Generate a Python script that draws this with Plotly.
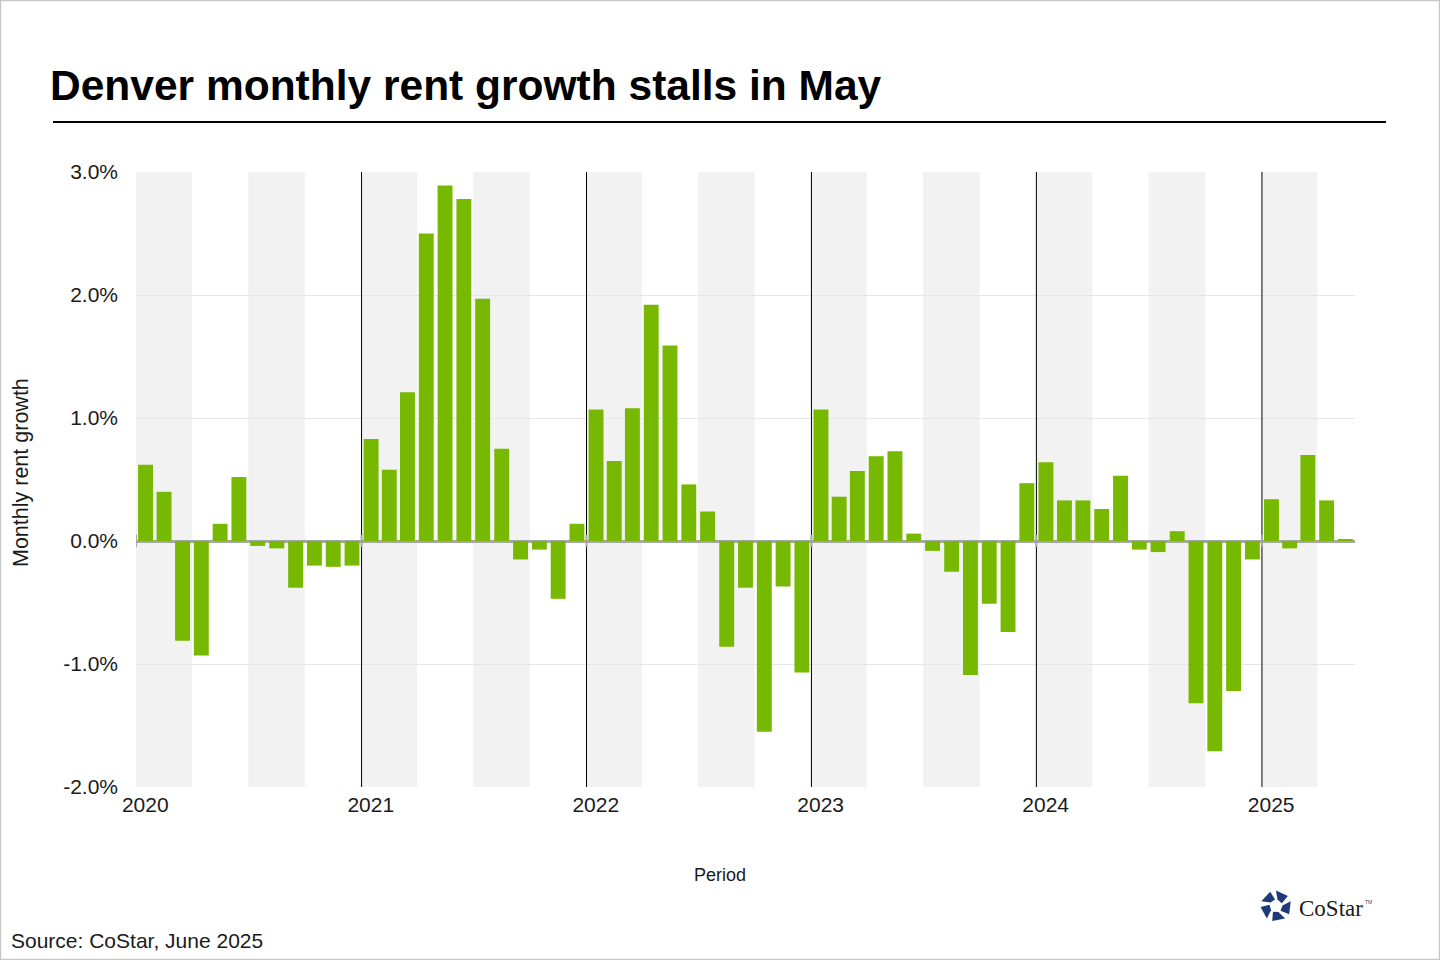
import math
import pandas as pd
import plotly.graph_objects as go

# ---- data (monthly rent growth, %) ----
v2020 = [0.62, 0.40, -0.81, -0.93, 0.14, 0.52, -0.04, -0.06, -0.38, -0.20, -0.21, -0.20]
v2021 = [0.83, 0.58, 1.21, 2.50, 2.89, 2.78, 1.97, 0.75, -0.15, -0.07, -0.47, 0.14]
v2022 = [1.07, 0.65, 1.08, 1.92, 1.59, 0.46, 0.24, -0.86, -0.38, -1.55, -0.37, -1.07]
v2023 = [1.07, 0.36, 0.57, 0.69, 0.73, 0.06, -0.08, -0.25, -1.09, -0.51, -0.74, 0.47]
v2024 = [0.64, 0.33, 0.33, 0.26, 0.53, -0.07, -0.09, 0.08, -1.32, -1.71, -1.22, -0.15]
v2025 = [0.34, -0.06, 0.70, 0.33, 0.01]

years = [2020, 2021, 2022, 2023, 2024, 2025]
year_labels = ["2020", "2021", "2022", "2023", "2024", "2025"]
y_tickvals = [-2, -1, 0, 1, 2, 3]
y_ticktext = ["-2.0%", "-1.0%", "0.0%", "1.0%", "2.0%", "3.0%"]

values = v2020 + v2021 + v2022 + v2023 + v2024 + v2025
months = pd.date_range("2020-01-01", periods=len(values), freq="MS")
x_end = "2025-06-01"

FONT = "Arial, Liberation Sans, sans-serif"
GREEN = "#76b900"
W, H = 1440, 960
L, R, T, B = 136, 1355, 172, 787


def px(x):
    return (x - L) / (R - L)


def py(y):
    return (B - y) / (B - T)


fig = go.Figure()
fig.add_trace(go.Bar(
    x=months, y=values,
    xperiod="M1", xperiodalignment="middle",
    marker=dict(color=GREEN, line=dict(width=0)),
    hovertemplate="%{x|%b %Y}: %{y:.2f}%<extra></extra>",
))

shapes = []
# quarter shading (Q1 and Q3 of each year)
for yr in years:
    for q_start, q_end in [(1, 4), (7, 10)]:
        s = pd.Timestamp(yr, q_start, 1)
        e = pd.Timestamp(yr, q_end, 1)
        if s >= pd.Timestamp(x_end):
            continue
        e = min(e, pd.Timestamp(x_end))
        shapes.append(dict(type="rect", xref="x", yref="paper", x0=s, x1=e, y0=0, y1=1,
                           fillcolor="#f2f2f2", line=dict(width=0), layer="below"))
# year separators
for yr in years[1:]:
    shapes.append(dict(type="line", xref="x", yref="paper", x0=pd.Timestamp(yr, 1, 1),
                       x1=pd.Timestamp(yr, 1, 1), y0=0, y1=1,
                       line=dict(color="black", width=1), layer="above"))
# small ticks on zero line
for yr in years:
    shapes.append(dict(type="line", xref="x", yref="y", x0=pd.Timestamp(yr, 1, 1),
                       x1=pd.Timestamp(yr, 1, 1), y0=-0.05, y1=0.05,
                       line=dict(color="#a6a6a6", width=2), layer="above"))
# title underline
shapes.append(dict(type="line", xref="paper", yref="paper", x0=px(53), x1=px(1386),
                   y0=py(122), y1=py(122), line=dict(color="black", width=2)))
# outer border
shapes.append(dict(type="rect", xref="paper", yref="paper", x0=px(0.5), x1=px(W - 0.5),
                   y0=py(H - 0.5), y1=py(0.5), line=dict(color="#c8c8c8", width=1.5)))

# CoStar logo mark (pinwheel pentagon)
cx, cy = 1276, 906
Ro, Ri = 15.5, 6.5
for k in range(5):
    a = -90 + 72 * k
    pts = [(Ro, a), (Ro, a + 50), (Ri, a + 64), (Ri, a + 14)]
    coords = []
    for r, ang in pts:
        xx = cx + r * math.cos(math.radians(ang))
        yy = cy + r * math.sin(math.radians(ang))
        coords.append((px(xx), py(yy)))
    path = "M " + " L ".join(f"{xx:.5f},{yy:.5f}" for xx, yy in coords) + " Z"
    shapes.append(dict(type="path", xref="paper", yref="paper", path=path,
                       fillcolor="#1f3a78", line=dict(width=0)))

annotations = [
    dict(text="<b>Denver monthly rent growth stalls in May</b>", xref="paper", yref="paper",
         x=px(48), y=py(86), xanchor="left", yanchor="middle", showarrow=False,
         font=dict(family=FONT, size=42.5, color="black")),
    dict(text="Monthly rent growth", xref="paper", yref="paper", x=px(21), y=py(472),
         xanchor="center", yanchor="middle", textangle=-90, showarrow=False,
         font=dict(family=FONT, size=21.5, color="#1a1a1a")),
    dict(text="Period", xref="paper", yref="paper", x=px(720), y=py(875),
         xanchor="center", yanchor="middle", showarrow=False,
         font=dict(family=FONT, size=18, color="#1a1a1a")),
    dict(text="Source: CoStar, June 2025", xref="paper", yref="paper", x=px(9), y=py(940),
         xanchor="left", yanchor="middle", showarrow=False,
         font=dict(family=FONT, size=21, color="#1a1a1a")),
    dict(text="CoStar", xref="paper", yref="paper", x=px(1297), y=py(908),
         xanchor="left", yanchor="middle", showarrow=False,
         font=dict(family="Liberation Serif, Times New Roman, serif", size=23, color="#1a1a1a")),
    dict(text="TM", xref="paper", yref="paper", x=px(1363), y=py(902),
         xanchor="left", yanchor="middle", showarrow=False,
         font=dict(family=FONT, size=5, color="#444")),
]

fig.update_layout(
    width=W, height=H,
    margin=dict(l=L, r=W - R, t=T, b=H - B, pad=0),
    paper_bgcolor="white", plot_bgcolor="white",
    showlegend=False, bargap=0.18,
    shapes=shapes, annotations=annotations,
    font=dict(family=FONT, color="#1a1a1a"),
    xaxis=dict(type="date", range=[months[0], x_end], showgrid=False, zeroline=False,
               showline=False, ticks="", ticklabelstandoff=3,
               tickvals=[pd.Timestamp(yr, 1, 16) for yr in years], ticktext=year_labels,
               tickfont=dict(family=FONT, size=21, color="#1a1a1a")),
    yaxis=dict(range=[-2, 3], tickvals=y_tickvals, ticktext=y_ticktext,
               showgrid=True, gridcolor="#e6e6e6", gridwidth=1,
               zeroline=True, zerolinecolor="#a6a6a6", zerolinewidth=3,
               showline=False, ticks="", ticklabelstandoff=17,
               tickfont=dict(family=FONT, size=21, color="#1a1a1a")),
)

fig.write_html("out.html", config={"displayModeBar": False},
               post_script="document.body.style.margin='0';document.body.style.overflow='hidden';")
